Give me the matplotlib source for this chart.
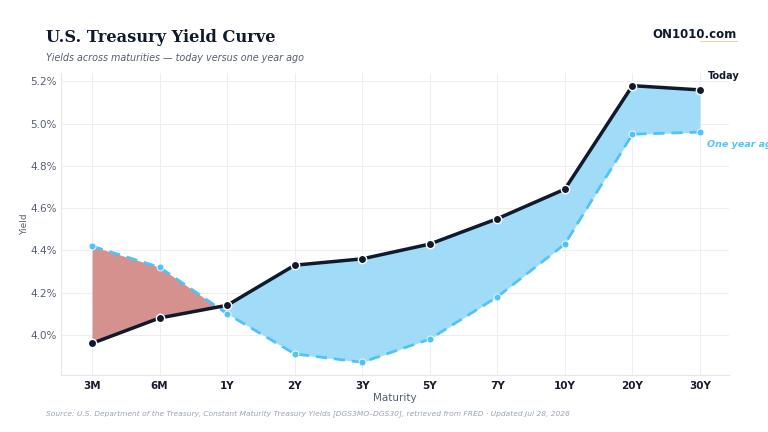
import numpy as np
import matplotlib.pyplot as plt
from matplotlib.ticker import FuncFormatter

maturities = ['3M', '6M', '1Y', '2Y', '3Y', '5Y', '7Y', '10Y', '20Y', '30Y']
today = [3.96, 4.08, 4.14, 4.33, 4.36, 4.43, 4.55, 4.69, 5.18, 5.16]
year_ago = [4.42, 4.32, 4.10, 3.91, 3.87, 3.98, 4.18, 4.43, 4.95, 4.96]

navy = '#0f1b2d'
sky = '#4fc3f7'
x = np.arange(len(maturities))
t = np.array(today)
a = np.array(year_ago)

fig = plt.figure(figsize=(7.68, 4.32), dpi=100)
ax = fig.add_axes([61/768, 1 - 375/432, (729 - 61)/768, (375 - 73)/432])

ax.fill_between(x, t, a, where=t >= a, interpolate=True, color='#a0dcf8', lw=0, zorder=1)
ax.fill_between(x, t, a, where=t < a, interpolate=True, color='#d4918e', lw=0, zorder=1)

ax.plot(x, a, color=sky, lw=2, ls=(0, (4, 2.5)), marker='o', ms=5,
        mfc=sky, mec='white', mew=0.6, zorder=3)
ax.plot(x, t, color=navy, lw=2.5, marker='o', ms=6,
        mfc=navy, mec='white', mew=1.0, zorder=4)

ax.text(x[-1] + 0.11, t[-1] + 0.065, 'Today', fontsize=7, fontweight='bold',
        color=navy, ha='left', va='center', zorder=5)
ax.text(x[-1] + 0.11, a[-1] - 0.06, 'One year ago', fontsize=6.8, fontweight='bold',
        style='italic', color=sky, ha='left', va='center', zorder=5, clip_on=False)

ax.set_xlim(-0.46, 9.43)
ax.set_ylim(3.81, 5.24)
ax.set_yticks([4.0, 4.2, 4.4, 4.6, 4.8, 5.0, 5.2])
ax.yaxis.set_major_formatter(FuncFormatter(lambda v, p: f'{v:.1f}%'))
ax.set_xticks(x)
ax.set_xticklabels(maturities, fontweight='bold', color='#1a1a2e', fontsize=7.5)
ax.tick_params(axis='y', labelsize=7.5, labelcolor='#555f6d', length=0, pad=3)
ax.tick_params(axis='x', length=0, pad=4)
ax.grid(True, color='#eeeeee', lw=0.8)
ax.set_axisbelow(True)
for s in ['top', 'right']:
    ax.spines[s].set_visible(False)
for s in ['left', 'bottom']:
    ax.spines[s].set_color('#e6e6e6')
ax.set_xlabel('Maturity', fontsize=7.5, color='#555f6d', labelpad=2)
ax.set_ylabel('Yield', fontsize=6.5, color='#555f6d', labelpad=1)

fig.text(46/768, 1 - 38/432, 'U.S. Treasury Yield Curve', fontsize=11.7, fontweight='bold',
         family='DejaVu Serif', color=navy, va='center')
fig.text(46/768, 1 - 58/432, 'Yields across maturities \u2014 today versus one year ago',
         fontsize=6.9, style='italic', color='#555f6d', va='center')
fig.text(737/768, 1 - 35/432, 'ON1010.com', fontsize=8.5, fontweight='bold',
         color=navy, ha='right', va='center')
fig.add_artist(plt.Line2D([700/768, 737/768], [1 - 41/432, 1 - 41/432],
                          color='#f0c890', lw=0.6))
fig.text(46/768, 1 - 414/432,
         'Source: U.S. Department of the Treasury, Constant Maturity Treasury Yields '
         '[DGS3MO\u2013DGS30], retrieved from FRED \u00b7 Updated Jul 28, 2026',
         fontsize=5.4, style='italic', color='#9aa3b0', va='center')

fig.savefig('out.png', dpi=100)
